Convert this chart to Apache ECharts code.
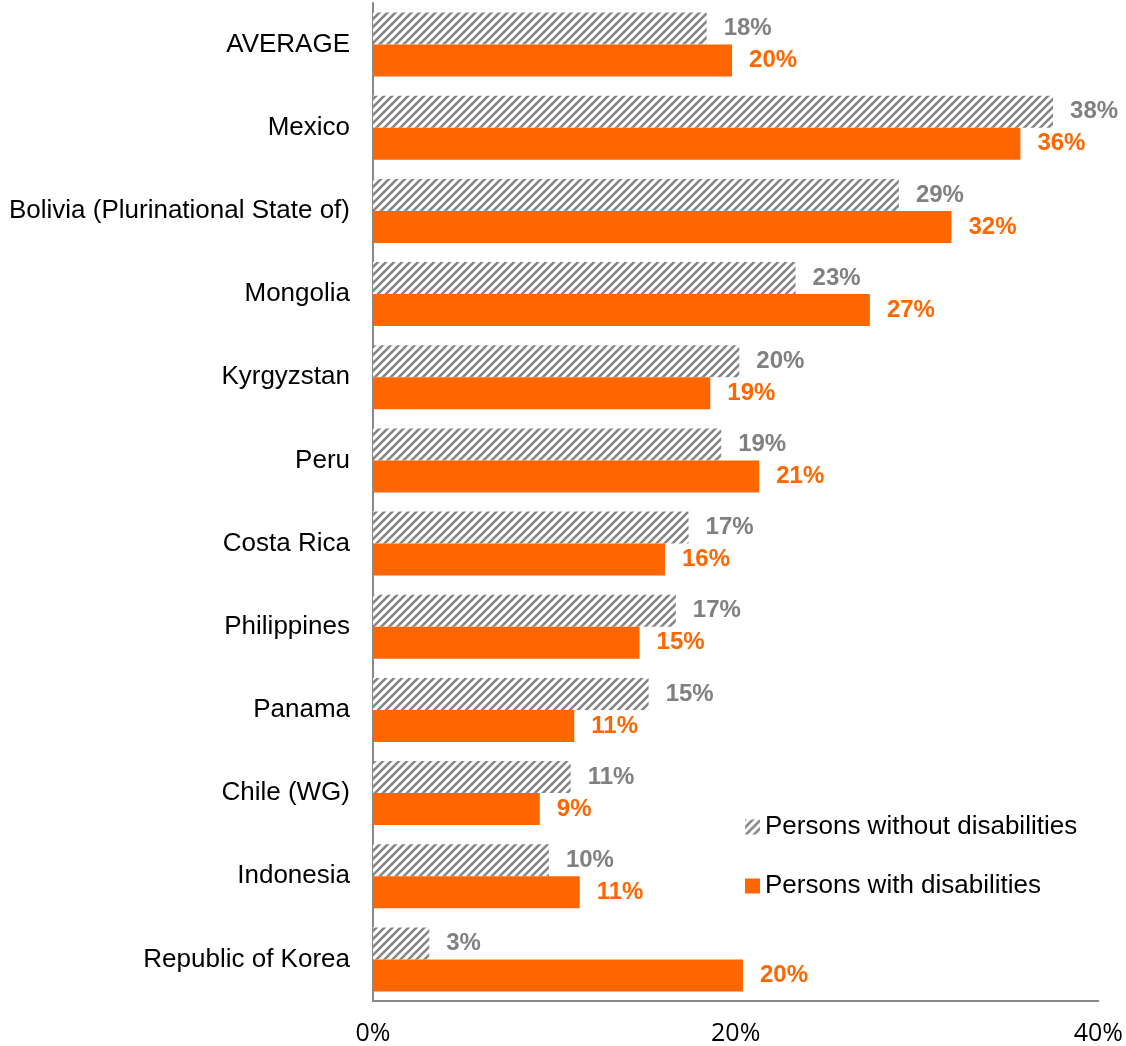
<!DOCTYPE html>
<html>
<head>
<meta charset="utf-8">
<script src="https://cdn.jsdelivr.net/npm/echarts@6/dist/echarts.min.js"></script>
<style>
  html, body { margin: 0; padding: 0; background: #fff; }
  #chart { width: 1126px; height: 1046px; }
</style>
</head>
<body>
<div id="chart"></div>
<script>
// categories top to bottom
const countries = ['AVERAGE', 'Mexico', 'Bolivia (Plurinational State of)', 'Mongolia', 'Kyrgyzstan', 'Peru',
  'Costa Rica', 'Philippines', 'Panama', 'Chile (WG)', 'Indonesia', 'Republic of Korea'];
const withoutDis = [18.4, 37.5, 29.0, 23.3, 20.2, 19.2, 17.4, 16.7, 15.2, 10.9, 9.7, 3.1];
const withDis = [19.8, 35.7, 31.9, 27.4, 18.6, 21.3, 16.1, 14.7, 11.1, 9.2, 11.4, 20.4];
const xTicks = [0, 20, 40];

// diagonal hatch pattern
function makeHatch() {
  const c = document.createElement('canvas');
  c.width = 8; c.height = 8;
  const ctx = c.getContext('2d');
  ctx.fillStyle = '#ffffff';
  ctx.fillRect(0, 0, 8, 8);
  ctx.strokeStyle = '#858585';
  ctx.lineWidth = 2.6;
  ctx.beginPath();
  ctx.moveTo(-2, 10); ctx.lineTo(10, -2);
  ctx.moveTo(-6, 6); ctx.lineTo(6, -6);
  ctx.moveTo(2, 14); ctx.lineTo(14, 2);
  ctx.stroke();
  return c;
}

const chart = echarts.init(document.getElementById('chart'));
const pct = p => Math.round(p.value) + '%';
const sans = 'Liberation Sans, Arial, sans-serif';

chart.setOption({
  animation: false,
  grid: { left: 373, right: 26, top: 3, bottom: 45, containLabel: false },
  legend: {
    orient: 'vertical',
    left: 740,
    top: 808,
    icon: 'rect',
    itemWidth: 15,
    itemHeight: 15,
    itemGap: 31,
    textStyle: { fontFamily: sans, fontSize: 26, color: '#000', lineHeight: 28 },
    data: ['Persons without disabilities', 'Persons with disabilities']
  },
  xAxis: {
    type: 'value',
    min: 0,
    max: 40,
    interval: 20,
    splitLine: { show: false },
    axisLine: { show: true, lineStyle: { color: '#888', width: 2 } },
    axisTick: { show: false },
    axisLabel: {
      margin: 20,
      fontFamily: 'Open Sans, Liberation Sans, sans-serif',
      fontSize: 25,
      color: '#000',
      formatter: v => xTicks.includes(v) ? v + '%' : ''
    }
  },
  yAxis: {
    type: 'category',
    data: countries,
    inverse: true,
    axisLine: { show: true, lineStyle: { color: '#888', width: 2 } },
    axisTick: { show: false },
    axisLabel: {
      margin: 23,
      fontFamily: sans,
      fontSize: 26,
      color: '#000'
    }
  },
  series: [
    {
      name: 'Persons without disabilities',
      type: 'bar',
      data: withoutDis,
      barWidth: 32,
      barGap: '0%',
      itemStyle: { color: { image: makeHatch(), repeat: 'repeat' } },
      label: {
        show: true,
        position: 'right',
        distance: 17,
        formatter: pct,
        fontFamily: sans,
        fontSize: 24,
        fontWeight: 'bold',
        color: '#808080'
      }
    },
    {
      name: 'Persons with disabilities',
      type: 'bar',
      data: withDis,
      barWidth: 32,
      itemStyle: { color: '#ff6600' },
      label: {
        show: true,
        position: 'right',
        distance: 17,
        formatter: pct,
        fontFamily: sans,
        fontSize: 24,
        fontWeight: 'bold',
        color: '#ff6600'
      }
    }
  ]
});
</script>
</body>
</html>
